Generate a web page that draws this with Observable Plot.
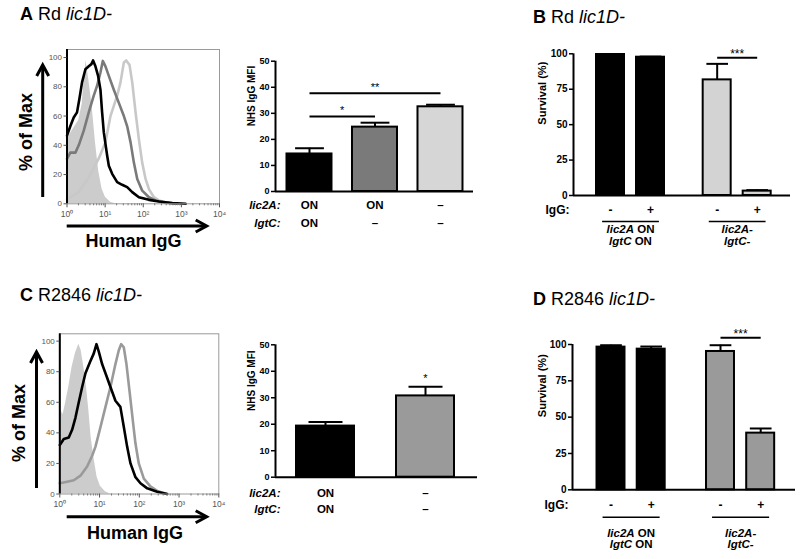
<!DOCTYPE html>
<html><head><meta charset="utf-8">
<script src="https://cdn.jsdelivr.net/npm/d3@7"></script>
<script src="https://cdn.jsdelivr.net/npm/@observablehq/plot@0.6"></script>
<style>
html,body{margin:0;padding:0;background:#fff}
#root{position:relative;width:800px;height:559px;overflow:hidden;background:#fff}
#root svg{position:absolute}
</style></head><body><div id="root"></div>
<script>
const FONT = "Arial, 'Liberation Sans', Helvetica, sans-serif";

// ---------------- DATA ----------------
// Panel titles
const panelLetters = ["A", "B", "C", "D"];
const panelStrains = ["Rd", "Rd", "R2846", "R2846"];
const panelGene = "lic1D-";

// Histogram axes
const histTicks = [1, 10, 100, 1000, 10000];
const histTickLabels = ["10⁰", "10¹", "10²", "10³", "10⁴"];
const pctTicks = [0, 20, 40, 60, 80, 100];

// Panel A histograms (Human IgG fluorescence vs % of max)
const aCtrlX = [1.0, 1.36, 2.03, 2.5, 2.75, 3.16, 3.72, 4.55, 5.57, 6.81, 8.34, 10.2, 13.8, 18.7];
const aCtrlY = [44, 50, 57, 68, 82, 98, 85, 67, 42, 22, 10, 4.5, 1, 0];
const aOnOnX = [1.0, 1.22, 1.5, 1.83, 2.11, 2.48, 3.04, 3.72, 4.37, 4.83, 5.57, 6.54, 7.54, 8.34, 9.22, 10.2, 11.3, 12.5, 15.3, 20.7, 28, 37.9, 51.4, 76.9, 141, 258, 580, 1300];
const aOnOnY = [46.6, 53, 59, 62.5, 71.6, 83, 92, 94, 95.5, 98, 94, 87.5, 78, 62.5, 49, 41, 33, 26, 20.5, 14.8, 13, 11.4, 8, 4.5, 2.7, 1.6, 0.5, 0];
const aOnOffX = [1.0, 1.22, 1.66, 2.03, 2.75, 3.72, 5.03, 6.16, 7.54, 8.69, 10.2, 12.5, 16.9, 22.9, 31, 37.9, 46.5, 56.9, 69.6, 94, 141, 210, 385, 708];
const aOnOffY = [30.7, 35, 35, 40, 50, 62.5, 74, 80.7, 89.8, 97.7, 94, 87.5, 78, 69, 60, 53, 42, 28, 17, 9, 4.5, 2.3, 0.7, 0];
const aOffOffX = [1.0, 2.03, 3.72, 6.81, 10.2, 13.8, 16.9, 20.7, 25.3, 31, 35.7, 43.6, 51.4, 62.9, 76.9, 94, 115, 141, 190, 258, 385, 708];
const aOffOffY = [3, 8, 18, 31, 42, 60, 67, 74, 83, 96.6, 98, 95, 83, 62.5, 44, 28, 17, 10, 4.5, 2.3, 1, 0];

// Panel C histograms
const cCtrlX = [1.0, 1.21, 1.39, 1.68, 2.04, 2.48, 3.0, 3.44, 4.02, 4.69, 5.37, 6.14, 7.17, 8.69, 10.5, 14.1, 18.8];
const cCtrlY = [56, 52, 59, 70, 83, 92, 98, 94, 83, 70, 55, 37, 24, 11, 5, 1.5, 0];
const cOnOnX = [1.0, 1.26, 1.68, 2.04, 2.48, 3.0, 3.65, 4.42, 5.69, 7.17, 8.37, 9.6, 11.6, 14.1, 18.8, 25.1, 33.4, 40.7, 49.4, 60, 80.1, 107, 158, 281, 501];
const cOnOnY = [32, 36, 37, 42, 50, 60, 70, 79, 86, 92, 98, 93, 85, 79, 70, 61, 57, 44, 31, 20, 11, 7, 3.7, 1.5, 0];
const cOffOffX = [1.0, 1.53, 2.25, 3.31, 4.87, 6.52, 7.9, 10.6, 14.1, 18.8, 25.1, 30.5, 34.9, 40.7, 47.5, 57.5, 70.1, 80.1, 97.1, 130, 190, 281, 501];
const cOffOffY = [7, 8, 9, 12, 18, 25, 31, 44, 57, 70, 85, 94, 98, 96, 85, 66, 46, 33, 20, 10, 5, 2, 0];

// Panel A bar chart: NHS IgG MFI
const aLic2A = ["ON", "ON", "–"];
const aLgtC = ["ON", "–", "–"];
const aMFI = [14.4, 24.7, 32.5];
const aSEM = [2.2, 1.7, 0.8];
const aSig = [{from: 0, to: 1, y: 28.8, label: "*"}, {from: 0, to: 2, y: 37.7, label: "**"}];

// Panel C bar chart
const cLic2A = ["ON", "–"];
const cLgtC = ["ON", "–"];
const cMFI = [19.3, 30.7];
const cSEM = [1.5, 3.5];
const cStars = ["", "*"];

// Panels B / D: survival
const survGroups = ["lic2A ON\nlgtC ON", "lic2A-\nlgtC-"];
const iggRow = ["-", "+", "-", "+"];
const barGroup = [0, 0, 1, 1];
const bSurvival = [99.5, 97.6, 81.6, 3.1];
const bSEM = [0.3, 0.4, 11.3, 0.7];
const dSurvival = [98.2, 96.8, 95.2, 39.0];
const dSEM = [1.3, 1.8, 4.3, 3.2];
const survSig = {from: 2, to: 3, label: "***"};
const bSigY = 97.2, dSigY = 104.6;

// ---------------- RENDER ----------------
const root = document.getElementById("root");

function italicizeGenes(svg) {
  svg.querySelectorAll("text, tspan").forEach(el => {
    if (el.children.length) return;
    const t = el.textContent;
    const m = t.match(/^(lic2A-?|lgtC-?)(.*)$/);
    if (!m) return;
    el.textContent = "";
    const it = document.createElementNS("http://www.w3.org/2000/svg", "tspan");
    it.setAttribute("font-style", "italic");
    it.textContent = m[1];
    el.appendChild(it);
    if (m[2]) el.appendChild(document.createTextNode(m[2]));
  });
}

function place(plot, left, top) {
  plot.style.left = left + "px";
  plot.style.top = top + "px";
  root.appendChild(plot);
}

function histPanel(c) {
  const minor = [];
  for (let e = 0; e < 4; e++) for (let k = 2; k < 10; k++) minor.push(k * 10 ** e);
  const pts = (xs, ys) => xs.map((x, i) => ({x, y: ys[i]}));
  const plot = Plot.plot({
    width: c.width, height: c.height,
    marginLeft: c.plotL - c.left, marginRight: c.left + c.width - c.plotR,
    marginTop: c.topPx - c.top, marginBottom: c.top + c.height - c.zeroPx,
    style: {fontFamily: FONT, background: "transparent", overflow: "visible", color: "black"},
    x: {type: "log", domain: [1, 1e4]},
    y: {domain: [0, c.ymax]},
    marks: [
      Plot.areaY(pts(c.fillX, c.fillY), {x: "x", y: "y", fill: "#cccccc"}),
      ...c.lines.map(l => Plot.lineY(pts(l.x, l.y), {x: "x", y: "y", stroke: l.color, strokeWidth: 2.6})),
      Plot.frame({stroke: "#9a9a9a"}),
      Plot.ruleX([1], {stroke: "black", strokeWidth: 2}),
      Plot.axisX({ticks: minor, tickFormat: () => "", tickSize: 2, color: "#777", label: null}),
      Plot.axisX({ticks: histTicks, tickFormat: d => histTickLabels[histTicks.indexOf(d)], tickSize: 4, tickPadding: 3, fontSize: 8.5, color: "#555", label: null}),
      Plot.axisY({ticks: pctTicks, tickSize: 3, tickPadding: 2, fontSize: 8, color: "#555", label: null})
    ]
  });
  place(plot, c.left, c.top);
}

function barPanel(c) {
  const data = c.values.map((v, i) => ({i, pos: c.pos[i], v, hi: v + c.sem[i], fill: c.fills[i]}));
  const plot = Plot.plot({
    width: c.width, height: c.height,
    marginLeft: c.plotL - c.left, marginRight: c.left + c.width - c.plotR,
    marginTop: c.topPx - c.top, marginBottom: c.top + c.height - c.zeroPx,
    style: {fontFamily: FONT, background: "transparent", overflow: "visible", color: "black"},
    x: {domain: c.xDomain, axis: null},
    y: {domain: [0, c.ymax]},
    color: {type: "identity"},
    marks: [
      Plot.rect(data, {x1: d => d.pos - c.halfW, x2: d => d.pos + c.halfW, y1: 0, y2: "v", fill: "fill", stroke: "black", strokeWidth: 2}),
      Plot.ruleX(data, {x: "pos", y1: "v", y2: "hi", stroke: "black", strokeWidth: 2}),
      Plot.link(data, {x1: d => d.pos - c.capW, x2: d => d.pos + c.capW, y1: "hi", y2: "hi", stroke: "black", strokeWidth: 2}),
      Plot.ruleY([0], {stroke: "black", strokeWidth: 2}),
      Plot.ruleX([c.xDomain[0]], {y1: 0, y2: c.ymax, stroke: "black", strokeWidth: 2}),
      Plot.axisY({ticks: c.yTicks, tickSize: 4, tickPadding: 2, fontSize: c.tickFont, fontWeight: "bold", strokeWidth: 1.5, label: null}),
      Plot.text([c.yLabel], {frameAnchor: "left", rotate: -90, dx: c.yLabelDx, fontSize: c.yLabelFont, fontWeight: "bold"}),
      ...c.extra(data)
    ]
  });
  italicizeGenes(plot);
  place(plot, c.left, c.top);
}

// ---- Panel A histogram
histPanel({
  left: 20, top: 40, width: 210, height: 185,
  plotL: 66.5, plotR: 219, topPx: 49, zeroPx: 203.3, ymax: 105.5,
  fillX: aCtrlX, fillY: aCtrlY,
  lines: [
    {x: aOffOffX, y: aOffOffY, color: "#c8c8c8"},
    {x: aOnOffX, y: aOnOffY, color: "#7a7a7a"},
    {x: aOnOnX, y: aOnOnY, color: "#000000"}
  ]
});

// ---- Panel C histogram
histPanel({
  left: 10, top: 320, width: 220, height: 195,
  plotL: 59.3, plotR: 218.3, topPx: 333.3, zeroPx: 493.5, ymax: 104.8,
  fillX: cCtrlX, fillY: cCtrlY,
  lines: [
    {x: cOffOffX, y: cOffOffY, color: "#9a9a9a"},
    {x: cOnOnX, y: cOnOnY, color: "#000000"}
  ]
});

// ---- Panel A bars
const aPos = aMFI.map((_, i) => i);
barPanel({
  left: 240, top: 40, width: 240, height: 200,
  plotL: 275, plotR: 473, topPx: 60.7, zeroPx: 191, ymax: 50,
  xDomain: [-0.519, 2.504], pos: aPos, values: aMFI, sem: aSEM,
  fills: ["#000000", "#7a7a7a", "#d6d6d6"], halfW: 0.3435, capW: 0.22,
  yTicks: [0, 10, 20, 30, 40, 50], tickFont: 9, yLabel: "NHS IgG MFI", yLabelDx: -23.3, yLabelFont: 10,
  extra: data => [
    Plot.text(data, {x: "pos", y: 0, text: d => aLic2A[d.i], dy: 14, fontSize: 11.5, fontWeight: "bold"}),
    Plot.text(data, {x: "pos", y: 0, text: d => aLgtC[d.i], dy: 31.7, fontSize: 11.5, fontWeight: "bold"}),
    Plot.text(["lic2A:"], {frameAnchor: "left", y: 0, dy: 14, dx: 5, textAnchor: "end", fontSize: 11.5, fontWeight: "bold", fontStyle: "italic"}),
    Plot.text(["lgtC:"], {frameAnchor: "left", y: 0, dy: 31.7, dx: 5, textAnchor: "end", fontSize: 11.5, fontWeight: "bold", fontStyle: "italic"}),
    Plot.link(aSig, {x1: d => aPos[d.from], x2: d => aPos[d.to], y1: "y", y2: "y", stroke: "black", strokeWidth: 2}),
    Plot.text(aSig, {x: d => (aPos[d.from] + aPos[d.to]) / 2, y: "y", text: "label", dy: -6, fontSize: 11})
  ]
});

// ---- Panel C bars
const cPos = cMFI.map((_, i) => i);
barPanel({
  left: 240, top: 320, width: 240, height: 200,
  plotL: 275, plotR: 477, topPx: 344.3, zeroPx: 476.7, ymax: 50,
  xDomain: [-0.5, 1.52], pos: cPos, values: cMFI, sem: cSEM,
  fills: ["#000000", "#9a9a9a"], halfW: 0.29, capW: 0.17,
  yTicks: [0, 10, 20, 30, 40, 50], tickFont: 9, yLabel: "NHS IgG MFI", yLabelDx: -23.3, yLabelFont: 10,
  extra: data => [
    Plot.text(data, {x: "pos", y: 0, text: d => cLic2A[d.i], dy: 16, fontSize: 11.5, fontWeight: "bold"}),
    Plot.text(data, {x: "pos", y: 0, text: d => cLgtC[d.i], dy: 32.3, fontSize: 11.5, fontWeight: "bold"}),
    Plot.text(["lic2A:"], {frameAnchor: "left", y: 0, dy: 16, dx: 5, textAnchor: "end", fontSize: 11.5, fontWeight: "bold", fontStyle: "italic"}),
    Plot.text(["lgtC:"], {frameAnchor: "left", y: 0, dy: 32.3, dx: 5, textAnchor: "end", fontSize: 11.5, fontWeight: "bold", fontStyle: "italic"}),
    Plot.text(data.filter(d => cStars[d.i]), {x: "pos", y: "hi", text: d => cStars[d.i], dy: -8.5, fontSize: 11})
  ]
});

// ---- Panels B and D
function survivalPanel(c) {
  const pos = barGroup.map((g, i) => g * c.gap + (i - barGroup.indexOf(g)));
  const groups = survGroups.map((label, g) => {
    const idx = barGroup.map((bg, i) => bg === g ? i : -1).filter(i => i >= 0);
    return {label, first: pos[idx[0]], last: pos[idx[idx.length - 1]]};
  });
  barPanel({
    left: c.left, top: c.top, width: c.width, height: c.height,
    plotL: c.plotL, plotR: c.plotR, topPx: c.topPx, zeroPx: c.zeroPx, ymax: 100,
    xDomain: c.xDomain, pos, values: c.values, sem: c.sem,
    fills: barGroup.map(g => g === 0 ? "#000000" : c.color2), halfW: c.halfW, capW: 0.27,
    yTicks: [0, 25, 50, 75, 100], tickFont: 10, yLabel: "Survival (%)", yLabelDx: c.yLabelDx, yLabelFont: 11,
    extra: data => [
      Plot.text(data, {x: "pos", y: 0, text: d => iggRow[d.i], dy: c.iggDy, fontSize: 12, fontWeight: "bold"}),
      Plot.text(["IgG:"], {frameAnchor: "left", y: 0, dy: c.iggDy, dx: -4, textAnchor: "end", fontSize: 12, fontWeight: "bold"}),
      Plot.link(groups, {x1: d => d.first - 0.21, x2: d => d.last + 0.21, y1: 0, y2: 0, dy: c.lineDy, stroke: "black", strokeWidth: 1.5}),
      Plot.text(groups, {x: d => (d.first + d.last) / 2, y: 0, text: "label", dy: c.labelDy, lineAnchor: "top", lineHeight: 1.02, fontSize: 11.5, fontWeight: "bold"}),
      Plot.link([survSig], {x1: d => pos[d.from], x2: d => pos[d.to], y1: c.sigY, y2: c.sigY, stroke: "black", strokeWidth: 2}),
      Plot.text([survSig], {x: d => (pos[d.from] + pos[d.to]) / 2, y: c.sigY, text: "label", dy: -4, fontSize: 12})
    ]
  });
}

survivalPanel({
  left: 480, top: 0, width: 320, height: 260,
  plotL: 573, plotR: 790, topPx: 53.3, zeroPx: 195, xDomain: [-0.925, 4.5], gap: 2.667, halfW: 0.35,
  values: bSurvival, sem: bSEM, color2: "#d3d3d3", yLabelDx: -31.3,
  iggDy: 14.3, lineDy: 26, labelDy: 29.5, sigY: bSigY
});
survivalPanel({
  left: 480, top: 270, width: 320, height: 289,
  plotL: 572, plotR: 795, topPx: 344, zeroPx: 489.3, xDomain: [-0.958, 4.59], gap: 2.724, halfW: 0.348,
  values: dSurvival, sem: dSEM, color2: "#9a9a9a", yLabelDx: -30.3,
  iggDy: 15.7, lineDy: 27.4, labelDy: 38.5, sigY: dSigY
});

// ---- Overlay: panel titles, axis arrows and their labels
const ov = d3.create("svg").attr("width", 800).attr("height", 559)
  .style("left", "0px").style("top", "0px").style("pointer-events", "none")
  .style("font-family", FONT);

const titlePos = [[20, 20], [533, 23], [20, 301], [533, 305]];
panelLetters.forEach((L, i) => {
  const t = ov.append("text").attr("x", titlePos[i][0]).attr("y", titlePos[i][1]).attr("font-size", 18);
  t.append("tspan").attr("font-weight", "bold").text(L);
  t.append("tspan").text(" " + panelStrains[i] + " ");
  t.append("tspan").attr("font-style", "italic").text(panelGene);
});

function arrow(x1, y1, x2, y2) {
  const dx = x2 - x1, dy = y2 - y1, L = Math.hypot(dx, dy), ux = dx / L, uy = dy / L, nx = -uy, ny = ux;
  const h = 11, w = 6;
  ov.append("line").attr("x1", x1).attr("y1", y1).attr("x2", x2 - ux).attr("y2", y2 - uy)
    .attr("stroke", "black").attr("stroke-width", 3);
  ov.append("polyline")
    .attr("points", `${x2 - h * ux + w * nx},${y2 - h * uy + w * ny} ${x2},${y2} ${x2 - h * ux - w * nx},${y2 - h * uy - w * ny}`)
    .attr("fill", "none").attr("stroke", "black").attr("stroke-width", 3);
}
function yTitle(cx, cy) {
  ov.append("text").attr("transform", `translate(${cx},${cy}) rotate(-90)`)
    .attr("text-anchor", "middle").attr("dominant-baseline", "central")
    .attr("font-size", 18).attr("font-weight", "bold").text("% of Max");
}
function xTitle(cx, baseline) {
  ov.append("text").attr("x", cx).attr("y", baseline).attr("text-anchor", "middle")
    .attr("font-size", 18).attr("font-weight", "bold").text("Human IgG");
}
// Panel A
yTitle(26, 132); arrow(42.7, 197, 42.7, 65);
arrow(66.7, 226, 206.7, 226); xTitle(133.5, 247);
// Panel C
yTitle(19, 423); arrow(36.5, 488, 36.5, 352);
arrow(66.7, 516.7, 206.7, 516.7); xTitle(135, 538.5);

root.appendChild(ov.node());
</script></body></html>
